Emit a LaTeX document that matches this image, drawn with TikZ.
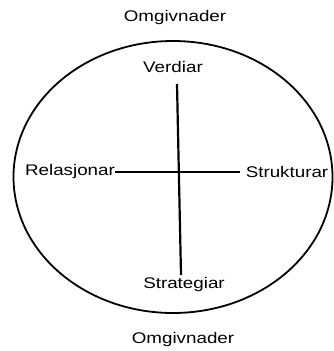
\documentclass[tikz,border=0pt]{standalone}
\usepackage{fontspec}
\setmainfont{Liberation Sans}[FakeStretch=1.22]
\begin{document}
\begin{tikzpicture}[x=1pt,y=-1pt,
  lbl/.style={font=\fontsize{15.4}{17}\selectfont, inner sep=0pt, anchor=center},
  ln/.style={line width=2.2pt}]
\useasboundingbox (0,0) rectangle (334,351);
\draw[line width=1.8pt] (173,177) ellipse [x radius=159.5, y radius=136];
\node[lbl] (omgtop) at (175,18) {Omgivnader};
\node[lbl] (verdiar) at (173,67) {Verdiar};
\node[lbl] (relasjonar) at (70,172) {Relasjonar};
\node[lbl] (strukturar) at (287,172) {Strukturar};
\node[lbl] (strategiar) at (184,285) {Strategiar};
\node[lbl] (omgbot) at (183,340) {Omgivnader};
\coordinate (vtop) at (177,84);
\coordinate (vbot) at (181,275);
\coordinate (hr) at (240,172);
\draw[ln] (vtop) -- (vbot);
\draw[ln] (relasjonar.east) -- (hr);
\end{tikzpicture}
\end{document}
